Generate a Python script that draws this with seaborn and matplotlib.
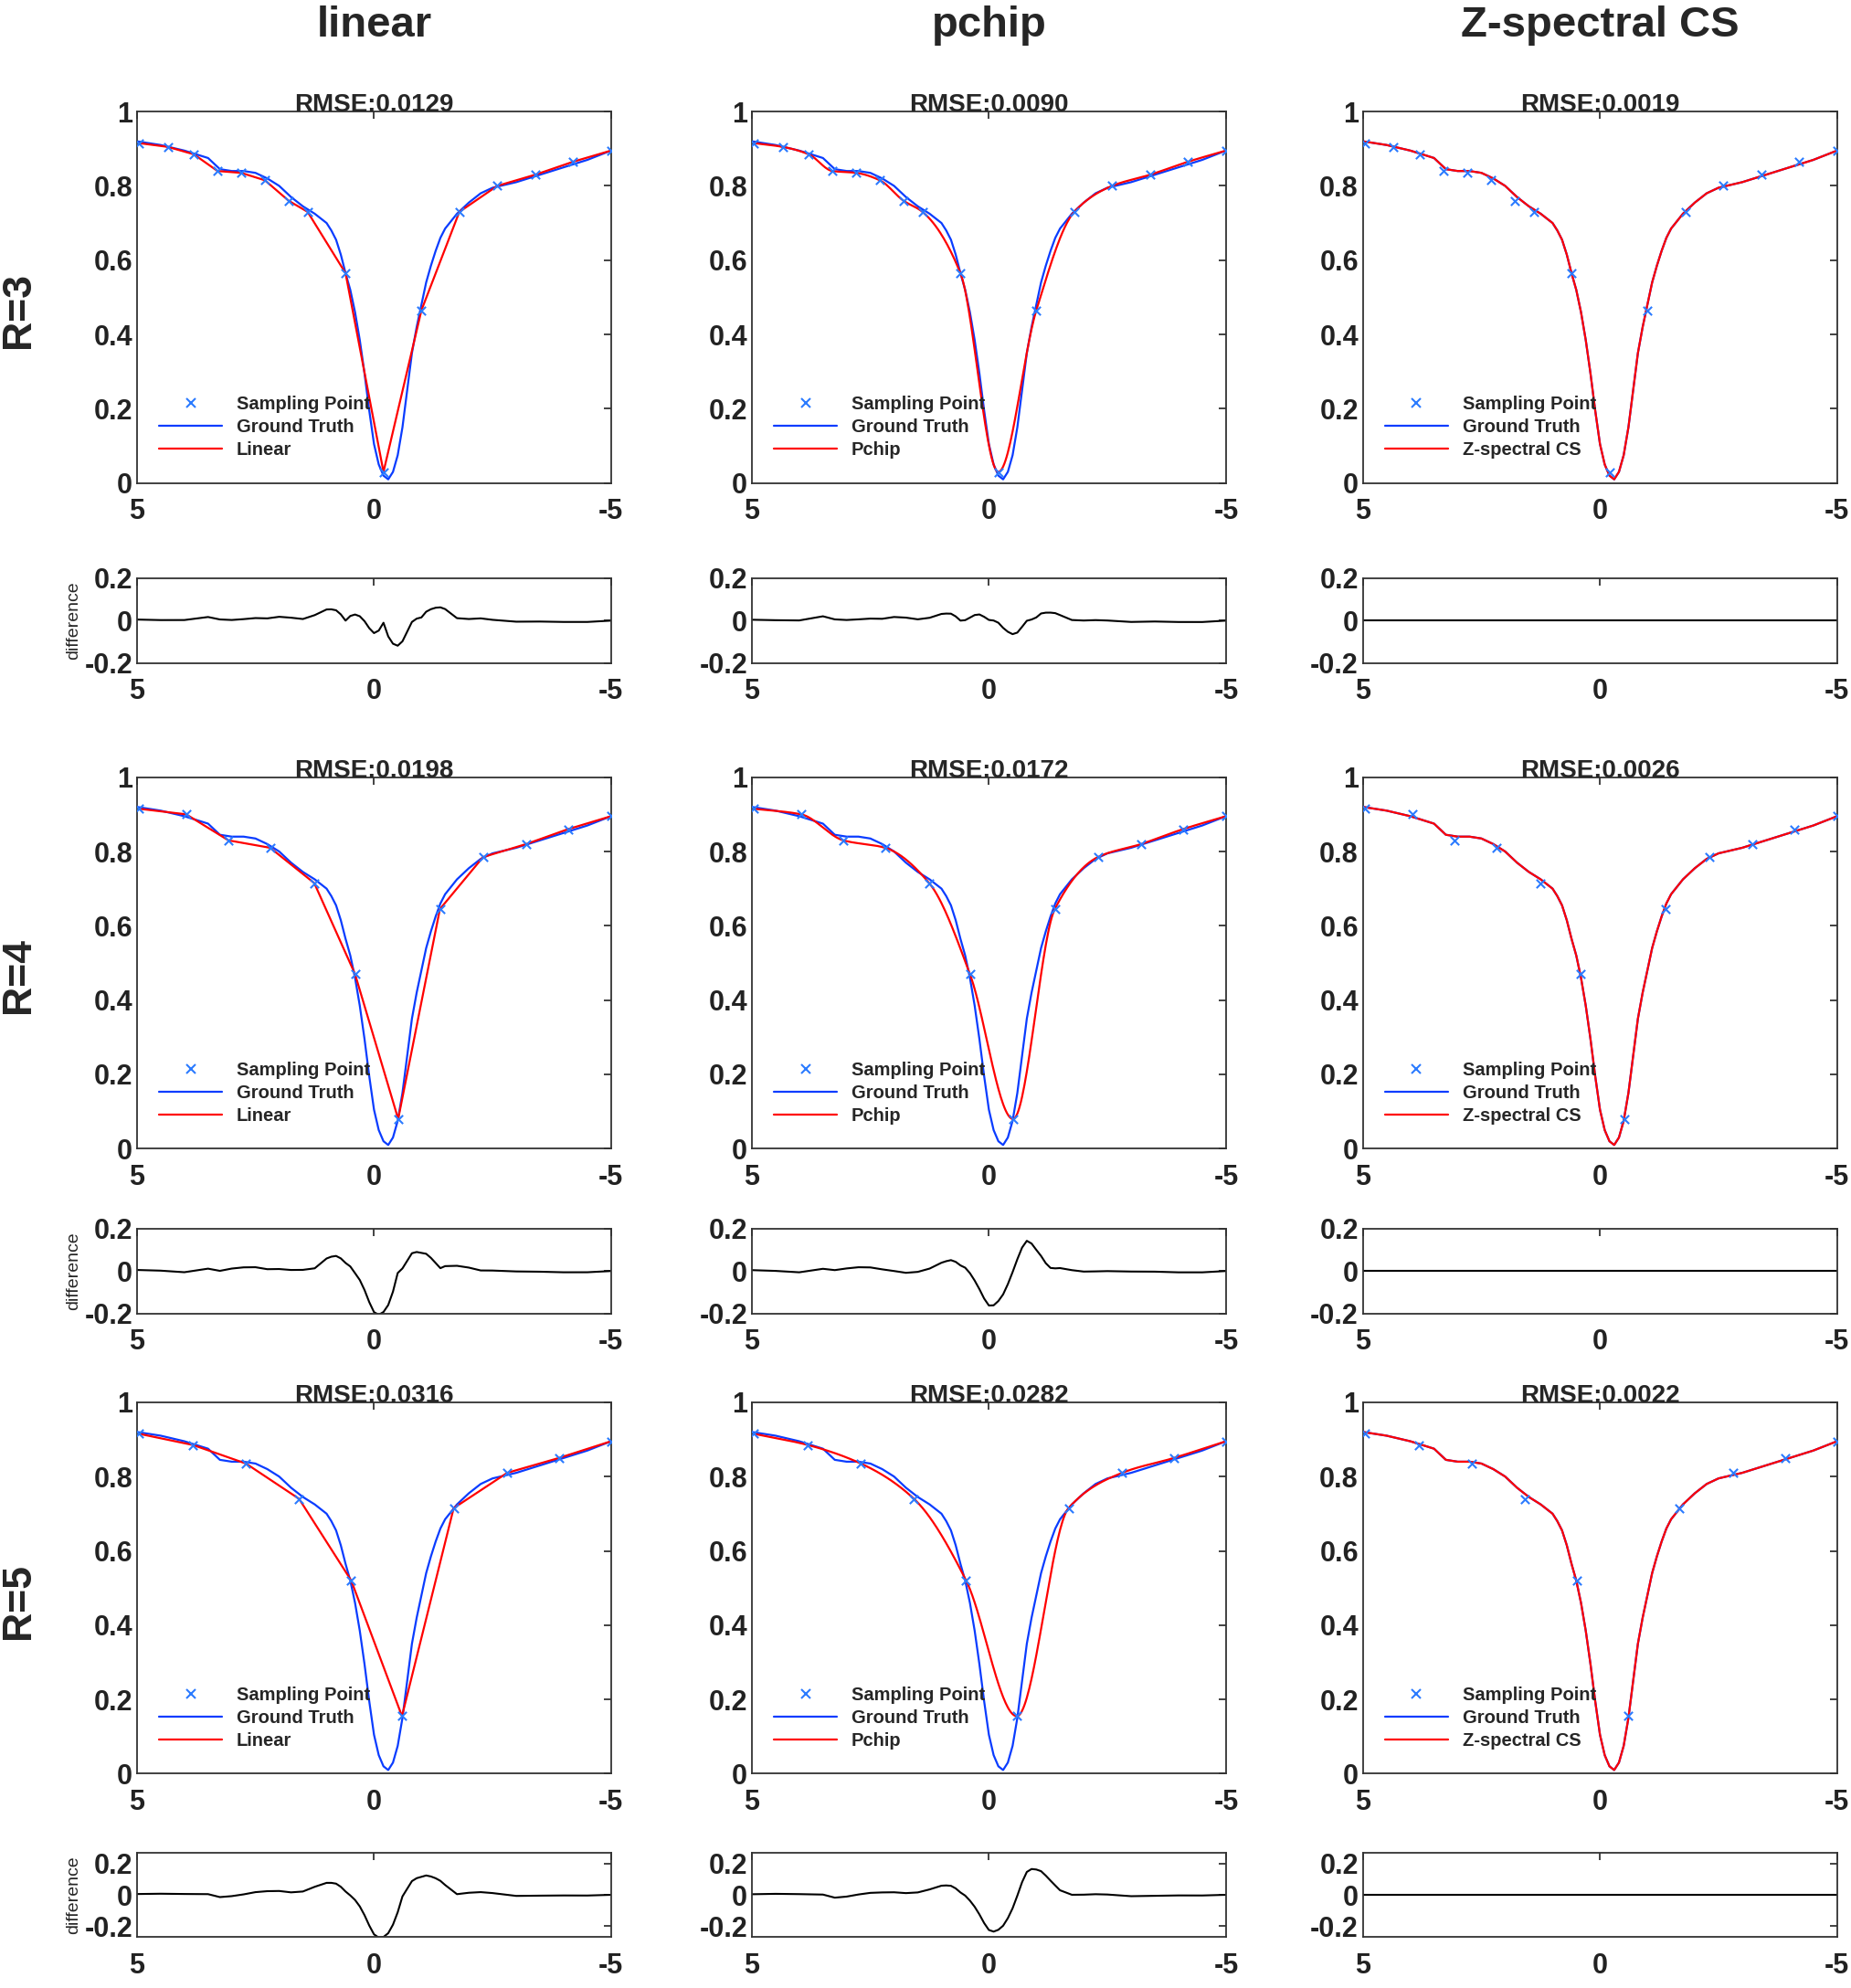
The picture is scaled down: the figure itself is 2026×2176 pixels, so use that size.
import numpy as np
import matplotlib
matplotlib.use("Agg")
import matplotlib.pyplot as plt
from matplotlib.lines import Line2D
import seaborn as sns

# ground truth Z-spectrum (offset in ppm, normalised signal)
gt_x = [5, 4.5, 4, 3.5, 3.25, 3, 2.75, 2.5, 2.25, 2, 1.75, 1.5, 1.25, 1.0, 0.9, 0.8, 0.7,
        0.6, 0.5, 0.4, 0.3, 0.2, 0.1, 0, -0.1, -0.2, -0.3, -0.4, -0.5, -0.6, -0.7, -0.8,
        -0.9, -1.0, -1.1, -1.2, -1.3, -1.4, -1.5, -1.75, -2, -2.25, -2.5, -3, -3.5, -4,
        -4.5, -5]
gt_y = [0.92, 0.91, 0.895, 0.875, 0.845, 0.84, 0.84, 0.835, 0.82, 0.80, 0.77, 0.745,
        0.725, 0.70, 0.68, 0.655, 0.615, 0.565, 0.52, 0.46, 0.385, 0.295, 0.195, 0.105,
        0.05, 0.02, 0.01, 0.03, 0.075, 0.15, 0.25, 0.35, 0.42, 0.48, 0.54, 0.585,
        0.625, 0.66, 0.685, 0.725, 0.755, 0.78, 0.795, 0.81, 0.83, 0.85, 0.87, 0.895]

# sampling points for each undersampling factor
r3_x = [4.95, 4.35, 3.8, 3.3, 2.8, 2.3, 1.8, 1.4, 0.6, -0.2, -1.0, -1.8, -2.6, -3.4, -4.2, -5.0]
r3_y = [0.915, 0.905, 0.885, 0.84, 0.835, 0.815, 0.76, 0.73, 0.565, 0.03, 0.465, 0.73,
        0.80, 0.83, 0.865, 0.895]
r4_x = [4.95, 3.96, 3.07, 2.19, 1.26, 0.40, -0.51, -1.39, -2.30, -3.21, -4.09, -5.0]
r4_y = [0.915, 0.90, 0.83, 0.81, 0.715, 0.47, 0.08, 0.645, 0.785, 0.82, 0.86, 0.895]
r5_x = [4.95, 3.82, 2.70, 1.58, 0.48, -0.59, -1.68, -2.81, -3.90, -5.0]
r5_y = [0.915, 0.885, 0.835, 0.74, 0.52, 0.155, 0.715, 0.81, 0.85, 0.895]

row_labels = ["R=3", "R=4", "R=5"]
col_titles = ["linear", "pchip", "Z-spectral CS"]
legend_names = ["Linear", "Pchip", "Z-spectral CS"]
rmse = [["0.0129", "0.0090", "0.0019"],
        ["0.0198", "0.0172", "0.0026"],
        ["0.0316", "0.0282", "0.0022"]]

samples = [(r3_x, r3_y), (r4_x, r4_y), (r5_x, r5_y)]


def pchip(xs, ys, xq):
    xs = np.asarray(xs, float)[::-1]
    ys = np.asarray(ys, float)[::-1]
    h = np.diff(xs)
    d = np.diff(ys) / h
    n = len(xs)
    m = np.zeros(n)
    for k in range(1, n - 1):
        if d[k - 1] * d[k] > 0:
            w1 = 2 * h[k] + h[k - 1]
            w2 = h[k] + 2 * h[k - 1]
            m[k] = (w1 + w2) / (w1 / d[k - 1] + w2 / d[k])
    m[0], m[-1] = d[0], d[-1]
    xq = np.asarray(xq, float)
    idx = np.clip(np.searchsorted(xs, xq) - 1, 0, n - 2)
    t = (xq - xs[idx]) / h[idx]
    h00 = 2 * t**3 - 3 * t**2 + 1
    h10 = t**3 - 2 * t**2 + t
    h01 = -2 * t**3 + 3 * t**2
    h11 = t**3 - t**2
    return h00 * ys[idx] + h10 * h[idx] * m[idx] + h01 * ys[idx + 1] + h11 * h[idx] * m[idx + 1]


sns.set_theme(style="white")
plt.rcParams["font.family"] = ["Liberation Sans", "DejaVu Sans"]
plt.rcParams["font.weight"] = "bold"

W, H = 1460.0, 1568.0
fig = plt.figure(figsize=(20.26, 21.76), dpi=100)
col_left = [108, 593, 1075]
aw = 374
main_top = [88, 613, 1106]
main_h = 293
diff_top = [456, 969, 1461]
diff_h = 67

blue_pt = "#2b7bff"
blue = "#0a3cff"
red = "#ff0000"
gx = np.array(gt_x)
gy = np.array(gt_y)


def style(ax):
    for s in ax.spines.values():
        s.set_color("#333333")
        s.set_linewidth(1.3)
    ax.tick_params(direction="in", length=6, width=1.2, labelsize=22, colors="#222222",
                   top=True, right=True, labeltop=False, labelright=False)
    for lab in ax.get_xticklabels() + ax.get_yticklabels():
        lab.set_fontweight("bold")
    ax.set_xlabel("")
    ax.set_ylabel("")


for r in range(3):
    sx, sy = samples[r]
    for c in range(3):
        ax = fig.add_axes([col_left[c] / W, 1 - (main_top[r] + main_h) / H, aw / W, main_h / H])
        if c == 0:
            rx, ry = np.array(sx), np.array(sy)
            recon_at_gt = np.interp(gx[::-1], rx[::-1], ry[::-1])[::-1]
        elif c == 1:
            rx = np.linspace(5, -5, 401)
            ry = pchip(sx, sy, rx)
            recon_at_gt = pchip(sx, sy, gx)
        else:
            rx, ry = gx, gy
            recon_at_gt = gy
        sns.lineplot(x=gx, y=gy, ax=ax, color=blue, lw=1.6, sort=False, estimator=None)
        sns.lineplot(x=rx, y=ry, ax=ax, color=red, lw=1.6, sort=False, estimator=None)
        sns.scatterplot(x=sx, y=sy, ax=ax, marker="x", color=blue_pt, s=45, linewidth=1.5,
                        zorder=5)
        ax.set_xlim(5, -5)
        ax.set_ylim(0, 1)
        ax.set_xticks([5, 0, -5])
        ax.set_yticks([0, 0.2, 0.4, 0.6, 0.8, 1])
        ax.set_yticklabels(["0", "0.2", "0.4", "0.6", "0.8", "1"])
        ax.set_xticklabels(["5", "0", "-5"])
        style(ax)
        ax.tick_params(axis="x", pad=12)
        ax.set_title("RMSE:" + rmse[r][c], fontsize=20, fontweight="bold", pad=0)
        handles = [Line2D([], [], ls="none", marker="x", color=blue_pt, ms=7, mew=1.5),
                   Line2D([], [], color=blue, lw=1.6),
                   Line2D([], [], color=red, lw=1.6)]
        ax.legend(handles, ["Sampling Point", "Ground Truth", legend_names[c]],
                  loc="lower left", bbox_to_anchor=(0.02, 0.03), frameon=False,
                  prop={"size": 14.5, "weight": "bold"}, handlelength=3.4,
                  labelspacing=0.3, borderpad=0.2)
        if r == 0:
            fig.text((col_left[c] + aw / 2) / W, 1 - 20 / H, col_titles[c], ha="center",
                     va="center", fontsize=34, fontweight="bold")

        dax = fig.add_axes([col_left[c] / W, 1 - (diff_top[r] + diff_h) / H, aw / W, diff_h / H])
        diff = gy - recon_at_gt
        sns.lineplot(x=gx, y=diff, ax=dax, color="black", lw=1.5, sort=False, estimator=None)
        dax.set_xlim(5, -5)
        lim = 0.27 if r == 2 else 0.2
        dax.set_ylim(-lim, lim)
        dax.set_xticks([5, 0, -5])
        dax.set_xticklabels(["5", "0", "-5"])
        dax.set_yticks([-0.2, 0, 0.2])
        dax.set_yticklabels(["-0.2", "0", "0.2"])
        style(dax)
        dax.tick_params(axis="x", pad=12)
        if c == 0:
            dax.set_ylabel("difference", fontsize=14, fontweight="normal", labelpad=2)

    fig.text(15 / W, 1 - (main_top[r] + main_h / 2 + 10) / H, row_labels[r], rotation=90,
             ha="center", va="center", fontsize=32, fontweight="bold")

fig.savefig("out.png", dpi=100)
